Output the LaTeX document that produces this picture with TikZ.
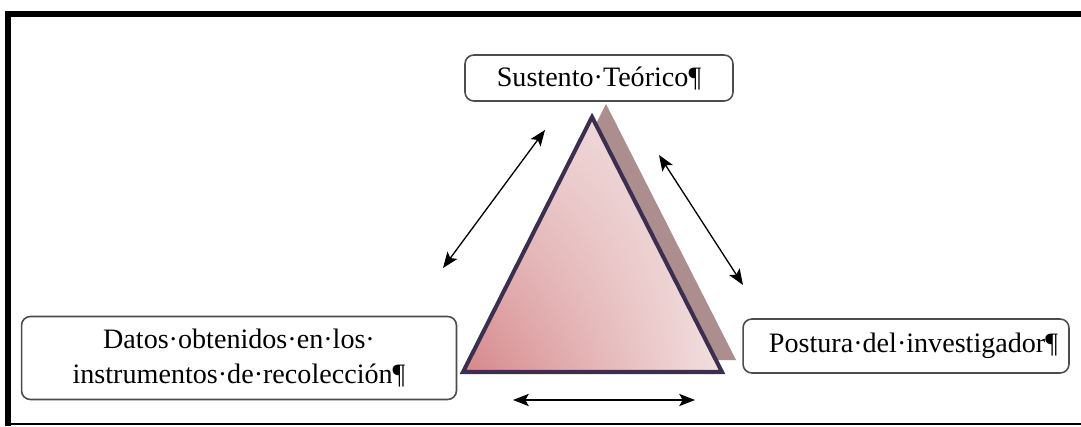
\documentclass[tikz,border=0pt]{standalone}
\usepackage{fontspec}
\setmainfont{Liberation Serif}
\usetikzlibrary{arrows.meta,shadings}
\definecolor{shadowmauve}{HTML}{AD8E8E}
\definecolor{edgepurple}{HTML}{3B2F50}
\definecolor{rosedark}{HTML}{D6878A}
\definecolor{rosemid}{HTML}{EBCDCE}
\definecolor{roselight}{HTML}{F2E0E0}
\begin{document}
\begin{tikzpicture}[x=0.02cm,y=-0.02cm,
    box node/.style={draw=black!70,line width=0.9pt,rounded corners=5pt,fill=white,
      inner sep=0pt,align=center,font=\fontsize{16}{20}\selectfont},
    link/.style={line width=0.75pt,{Stealth[length=9pt,width=7pt,inset=2pt]}-{Stealth[length=9pt,width=7pt,inset=2pt]}}]

  % Frame
  \useasboundingbox (0,0) rectangle (1081,426);
  \draw[line width=3.4pt] (1081,14) -- (8,14) -- (8,426);
  \draw[line width=0.9pt] (8,424) -- (1081,424);

  % Triangle and its shadow
  \fill[shadowmauve] (606,104) -- (736,360) -- (477,360) -- cycle;
  \shade[lower left=rosedark,upper right=roselight,upper left=rosemid,lower right=roselight]
    (592,117) -- (722,372) -- (463,372) -- cycle;
  \draw[edgepurple,line width=2.3pt] (592,117) -- (722,372) -- (463,372) -- cycle;

  % Define boxes
  \node[box node,minimum width=5.36cm,minimum height=0.92cm] (theory) at (599,78) {Sustento·Teórico¶};
  \node[box node,minimum width=8.7cm,minimum height=1.66cm] (data) at (239,358)
    {Datos·obtenidos·en·los·\\instrumentos·de·recolección¶};
  \node[box node,minimum width=6.52cm,minimum height=1.08cm] (stance) at (906,346)
    {\hspace{0.3cm}Postura·del·investigador¶};

  % Arrow ends
  \coordinate (l1) at (443,268);
  \coordinate (l2) at (545,130);
  \coordinate (r1) at (659,155);
  \coordinate (r2) at (743,285);
  \coordinate (b1) at (513,400);
  \coordinate (b2) at (695,400);

  % Draw arrows
  \draw[link] (l1) -- (l2);
  \draw[link] (r1) -- (r2);
  \draw[link] (b1) -- (b2);

\end{tikzpicture}
\end{document}
